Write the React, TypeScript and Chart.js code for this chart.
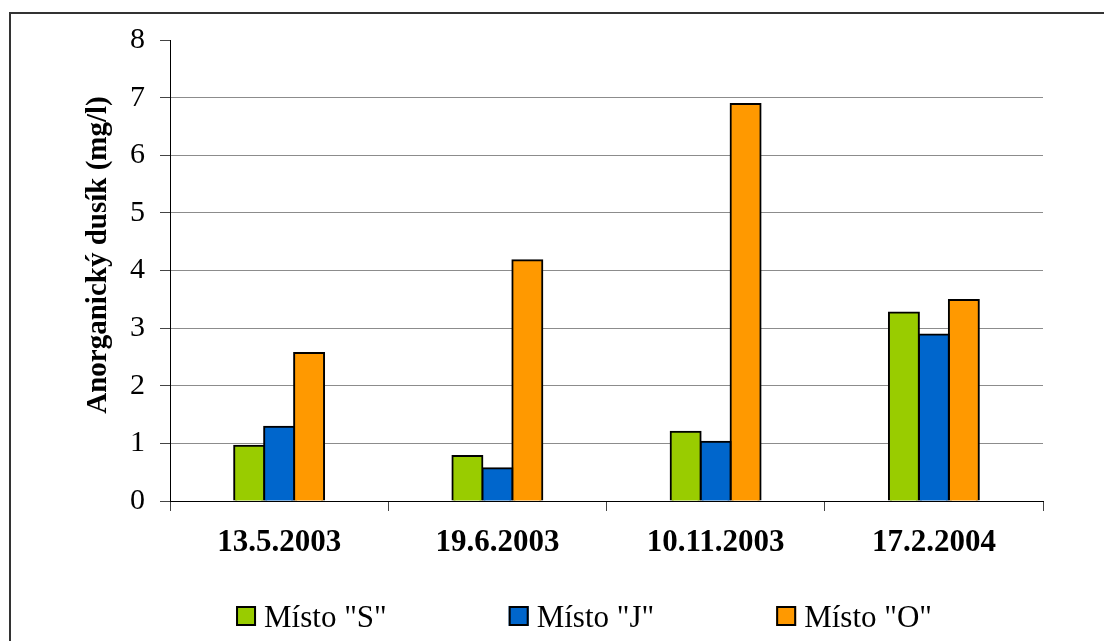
import React, { useEffect, useRef } from "react";
import { Chart, registerables } from "chart.js";

Chart.register(...registerables);

// Sampling dates
const categories = ["13.5.2003", "19.6.2003", "10.11.2003", "17.2.2004"];

// Inorganic nitrogen (mg/l) per sampling site
const siteLabels = ['Místo "S"', 'Místo "J"', 'Místo "O"'];
const siteS = [0.96, 0.78, 1.2, 3.27];
const siteJ = [1.29, 0.57, 1.03, 2.89];
const siteO = [2.57, 4.18, 6.89, 3.49];
const siteColors = ["#99CC00", "#0066CC", "#FF9900"];

const yTitle = "Anorganický dusík (mg/l)";
const yMin = 0;
const yMax = 8;

const SERIF = "'Liberation Serif', 'Times New Roman', serif";

// Outer frame around the whole chart (runs off the right/bottom edge)
const framePlugin = {
  id: "frame",
  beforeDraw(chart: any) {
    const { ctx } = chart;
    ctx.save();
    ctx.fillStyle = "#fff";
    ctx.fillRect(0, 0, chart.width, chart.height);
    ctx.strokeStyle = "#333";
    ctx.lineWidth = 2;
    ctx.strokeRect(10, 13, 3000, 3000);
    ctx.restore();
  },
};

// Rotated y axis caption
const yCaptionPlugin = {
  id: "yCaption",
  afterDraw(chart: any) {
    const { ctx } = chart;
    ctx.save();
    ctx.translate(99, 255);
    ctx.rotate(-Math.PI / 2);
    ctx.font = `bold 29px ${SERIF}`;
    ctx.fillStyle = "#000";
    ctx.textAlign = "center";
    ctx.textBaseline = "middle";
    ctx.fillText(yTitle, 0, 0);
    ctx.restore();
  },
};

// Legend row below the axis
const legendPlugin = {
  id: "siteLegend",
  afterDraw(chart: any) {
    const { ctx } = chart;
    const box = 20;
    const textGap = 8;
    const itemGap = 122;
    const centerX = 584;
    const boxTop = 606;
    const baseline = 627;
    ctx.save();
    ctx.font = `31px ${SERIF}`;
    const items = chart.data.datasets.map((ds: any) => ({
      label: ds.label,
      color: ds.backgroundColor,
      w: ctx.measureText(ds.label).width,
    }));
    const total =
      items.reduce((a: number, it: any) => a + box + textGap + it.w, 0) +
      itemGap * (items.length - 1);
    let x = centerX - total / 2;
    for (const it of items) {
      ctx.fillStyle = it.color;
      ctx.fillRect(x, boxTop, box, box);
      ctx.strokeStyle = "#000";
      ctx.lineWidth = 2;
      ctx.strokeRect(x + 1, boxTop + 1, box - 2, box - 2);
      ctx.fillStyle = "#000";
      ctx.textAlign = "left";
      ctx.textBaseline = "alphabetic";
      ctx.fillText(it.label, x + box + textGap, baseline);
      x += box + textGap + it.w + itemGap;
    }
    ctx.restore();
  },
};

export default function App() {
  const canvasRef = useRef<HTMLCanvasElement | null>(null);

  useEffect(() => {
    if (!canvasRef.current) return;
    const series = [siteS, siteJ, siteO];
    const chart = new Chart(canvasRef.current, {
      type: "bar",
      data: {
        labels: categories,
        datasets: series.map((values, i) => ({
          label: siteLabels[i],
          data: values,
          backgroundColor: siteColors[i],
          borderColor: "#000",
          borderWidth: 2,
          inflateAmount: 1,
          categoryPercentage: 0.412,
          barPercentage: 1,
        })),
      },
      options: {
        animation: false,
        responsive: false,
        maintainAspectRatio: false,
        devicePixelRatio: 1,
        layout: { padding: { top: 40, right: 61, bottom: 0, left: 0 } },
        plugins: {
          legend: { display: false },
          tooltip: { enabled: false },
        },
        scales: {
          x: {
            offset: true,
            afterFit: (s: any) => {
              s.height = 140;
            },
            grid: {
              offset: true,
              drawOnChartArea: false,
              drawTicks: true,
              tickLength: 10,
              tickColor: "#444",
            },
            border: { display: true, color: "#000", width: 1 },
            ticks: {
              color: "#000",
              font: { family: SERIF, size: 31, weight: "bold" },
              padding: 13,
              maxRotation: 0,
            },
          },
          y: {
            min: yMin,
            max: yMax,
            afterFit: (s: any) => {
              s.width = 170;
            },
            grid: {
              color: (c: any) =>
                c.tick && c.tick.value === yMax ? "rgba(0,0,0,0)" : "#8c8c8c",
              lineWidth: 1,
              drawTicks: true,
              tickLength: 10,
              tickColor: "#444",
            },
            border: { display: true, color: "#000", width: 1 },
            ticks: {
              stepSize: 1,
              color: "#000",
              font: { family: SERIF, size: 30 },
              padding: 15,
            },
          },
        },
      },
      plugins: [framePlugin, yCaptionPlugin, legendPlugin],
    });
    return () => chart.destroy();
  }, []);

  return (
    <div
      style={{
        position: "fixed",
        left: 0,
        top: 0,
        width: 1104,
        height: 641,
        overflow: "hidden",
        background: "#fff",
      }}
    >
      <canvas
        ref={canvasRef}
        width={1104}
        height={641}
        style={{ display: "block", width: 1104, height: 641 }}
      />
    </div>
  );
}
